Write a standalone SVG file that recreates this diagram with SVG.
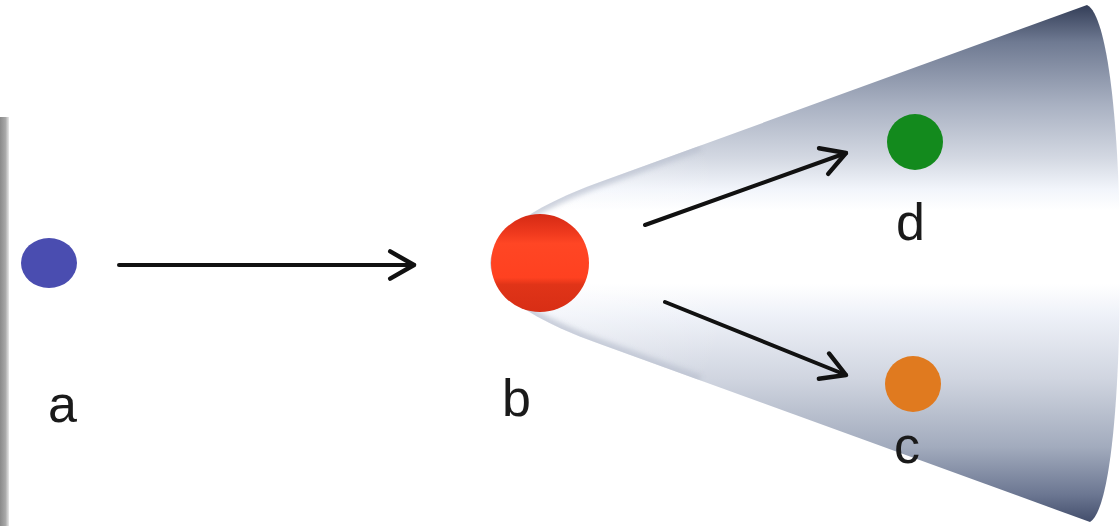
<svg xmlns="http://www.w3.org/2000/svg" width="1120" height="526" viewBox="0 0 1120 526">
<defs>
<linearGradient id="coneV" x1="0" y1="0" x2="0" y2="526" gradientUnits="userSpaceOnUse">
<stop offset="0" stop-color="#2c3650"/>
<stop offset="0.08" stop-color="#6f7a92"/>
<stop offset="0.2" stop-color="#a9b1c2"/>
<stop offset="0.3" stop-color="#d3d8e2"/>
<stop offset="0.36" stop-color="#f2f5fb"/>
<stop offset="0.4" stop-color="#ffffff"/>
<stop offset="0.54" stop-color="#ffffff"/>
<stop offset="0.6" stop-color="#eef1f8"/>
<stop offset="0.72" stop-color="#d0d5e0"/>
<stop offset="0.85" stop-color="#a2abbd"/>
<stop offset="0.94" stop-color="#6c7792"/>
<stop offset="1" stop-color="#3d4866"/>
</linearGradient>
<radialGradient id="apexGlow" cx="520" cy="263" r="220" gradientUnits="userSpaceOnUse">
<stop offset="0" stop-color="#ffffff" stop-opacity="0.45"/>
<stop offset="0.6" stop-color="#ffffff" stop-opacity="0.15"/>
<stop offset="1" stop-color="#ffffff" stop-opacity="0"/>
</radialGradient>
<linearGradient id="redG" x1="0" y1="0" x2="0" y2="1">
<stop offset="0" stop-color="#d42a14"/>
<stop offset="0.2" stop-color="#f03a1e"/>
<stop offset="0.3" stop-color="#ff4624"/>
<stop offset="0.65" stop-color="#ff4120"/>
<stop offset="0.72" stop-color="#e03418"/>
<stop offset="1" stop-color="#d82e15"/>
</linearGradient>
<linearGradient id="barG" x1="0" y1="0" x2="1" y2="0">
<stop offset="0" stop-color="#8a8a8a"/>
<stop offset="0.6" stop-color="#a8a8a8"/>
<stop offset="1" stop-color="#e8e8e8"/>
</linearGradient>
<filter id="soft" x="-10%" y="-10%" width="120%" height="120%">
<feGaussianBlur stdDeviation="2.5"/>
</filter>
<marker id="arr" viewBox="0 0 20 20" refX="17" refY="10" markerWidth="8.5" markerHeight="8.5" markerUnits="strokeWidth" orient="auto">
<path d="M3 2 L17 10 L3 18" fill="none" stroke="#111" stroke-width="2.6" stroke-linecap="round" stroke-linejoin="round"/>
</marker>
<style>
.lbl{font-family:"Liberation Sans",Arial,sans-serif;font-size:52px;fill:#1a1a1a}
.conn{stroke:#111;stroke-width:4;fill:none;stroke-linecap:round}
</style>
</defs>
<rect width="1120" height="526" fill="#ffffff"/>
<rect x="0" y="117" width="9" height="409" fill="url(#barG)"/>
<g id="cone">
<clipPath id="coneClip">
<path d="M1087 5 L600 182 C545 202 492 230 490 263 C492 298 545 324 600 344 L1090 522 C1110 510 1120 400 1120 263 C1120 130 1108 15 1087 5 Z"/>
</clipPath>
<path d="M1087 5 L600 182 C545 202 492 230 490 263 C492 298 545 324 600 344 L1090 522 C1110 510 1120 400 1120 263 C1120 130 1108 15 1087 5 Z" fill="url(#coneV)"/>
<path d="M1087 5 L600 182 C545 202 492 230 490 263 C492 298 545 324 600 344 L1090 522 C1110 510 1120 400 1120 263 C1120 130 1108 15 1087 5 Z" fill="url(#apexGlow)"/>
<g clip-path="url(#coneClip)">
<path d="M700 146 L600 182 C545 202 492 230 490 263 C492 298 545 324 600 344 L700 380" fill="none" stroke="#b9c0cf" stroke-width="10" filter="url(#soft)" opacity="0.7"/>
</g>
</g>
<g id="node-a">
<ellipse cx="49" cy="263" rx="28" ry="25" fill="#4a4db0"/>
<text class="lbl" x="48" y="422">a</text>
</g>
<g id="node-b">
<circle cx="540" cy="263" r="49" fill="url(#redG)"/>
<text class="lbl" x="502" y="416">b</text>
</g>
<g id="node-d">
<circle cx="915" cy="142" r="28" fill="#138a1d"/>
<text class="lbl" x="896" y="240">d</text>
</g>
<g id="node-c">
<circle cx="913" cy="384" r="28" fill="#e07a1f"/>
<text class="lbl" x="894" y="463">c</text>
</g>
<g id="connectors">
<line class="conn" x1="119" y1="265" x2="414" y2="265" marker-end="url(#arr)"/>
<line class="conn" x1="645" y1="225" x2="846" y2="153" marker-end="url(#arr)"/>
<line class="conn" x1="665" y1="302" x2="846" y2="375" marker-end="url(#arr)"/>
</g>
</svg>
